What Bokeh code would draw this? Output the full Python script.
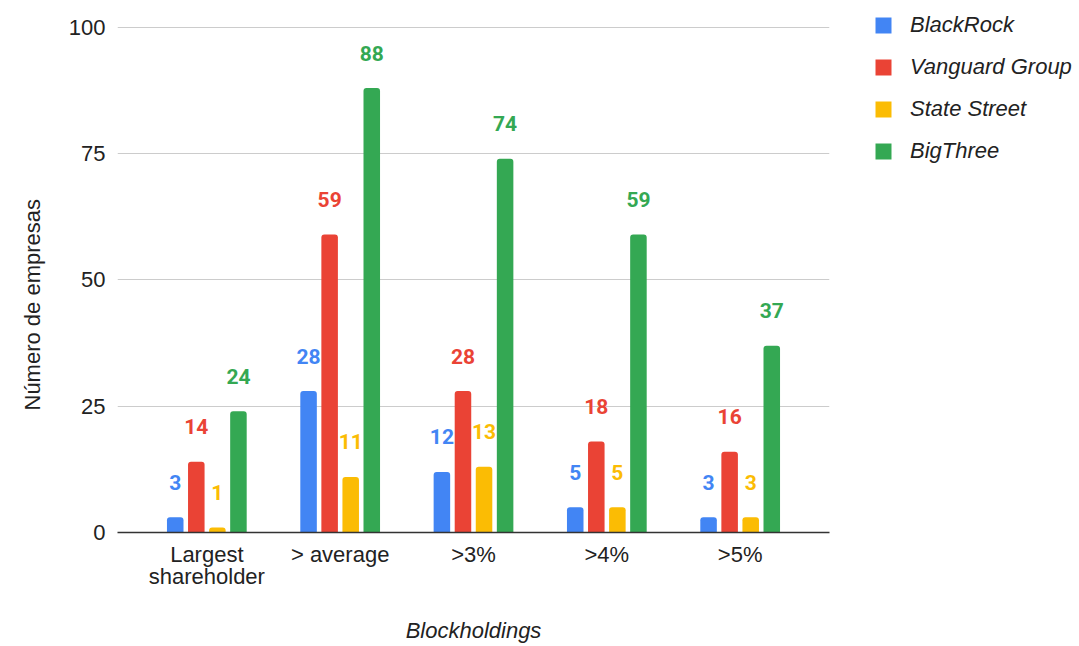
from bokeh.plotting import figure
from bokeh.layouts import row
from bokeh.models import (ColumnDataSource, FactorRange, Range1d, FixedTicker, LabelSet,
                          Legend, LegendItem, Title)
from bokeh.models.glyphs import VBar
from bokeh.transform import dodge
from bokeh.core.properties import value
from bokeh.embed import file_html
from bokeh.resources import INLINE

categories = ["Largest\nshareholder", "> average", ">3%", ">4%", ">5%"]
series = ["BlackRock", "Vanguard Group", "State Street", "BigThree"]
blackrock = [3, 28, 12, 5, 3]
vanguard = [14, 59, 28, 18, 16]
state_street = [1, 11, 13, 5, 3]
bigthree = [24, 88, 74, 59, 37]
colors = ["#4285F4", "#EA4335", "#FBBC04", "#34A853"]
y_ticks = [0, 25, 50, 75, 100]

values = [blackrock, vanguard, state_street, bigthree]
offsets = [-0.237, -0.079, 0.079, 0.237]

FONT = "Liberation Sans"
TXT = "#222222"

p = figure(x_range=FactorRange(factors=categories, range_padding=0.068),
           y_range=Range1d(0, 103.75),
           width=839, height=646, output_backend="svg", toolbar_location=None,
           min_border_left=117, min_border_right=10, min_border_top=8, min_border_bottom=112)
p.outline_line_color = None

p.xgrid.grid_line_color = None
p.ygrid.grid_line_color = "#cccccc"
p.ygrid.grid_line_width = 1
p.yaxis.ticker = FixedTicker(ticks=y_ticks)
p.yaxis.axis_line_color = None
p.yaxis.major_tick_line_color = None
p.yaxis.minor_tick_line_color = None
p.yaxis.major_label_standoff = 6
p.yaxis.major_label_text_font = FONT
p.yaxis.major_label_text_font_size = "22px"
p.yaxis.major_label_text_color = TXT

p.xaxis.axis_line_color = "#333333"
p.xaxis.axis_line_width = 1.5
p.xaxis.major_tick_line_color = None
p.xaxis.minor_tick_line_color = None
p.xaxis.major_label_standoff = 3
p.xaxis.major_label_text_font = FONT
p.xaxis.major_label_text_font_size = "22px"
p.xaxis.major_label_text_line_height = 0.9
p.xaxis.major_label_text_color = TXT
p.xaxis.axis_label = "Blockholdings"
p.xaxis.axis_label_text_font = FONT
p.xaxis.axis_label_text_font_size = "22px"
p.xaxis.axis_label_text_font_style = "italic"
p.xaxis.axis_label_text_color = TXT
p.xaxis.axis_label_standoff = 26

p.add_layout(Title(text="Número de empresas", align="left", vertical_align="top",
                   offset=122, standoff=38,
                   text_font=FONT, text_font_size="22px", text_font_style="normal",
                   text_color=TXT), "left")

has_radius = "border_radius" in VBar.properties()

for name, vals, col, off in zip(series, values, colors, offsets):
    src = ColumnDataSource(dict(cat=categories, val=vals, txt=[str(v) for v in vals]))
    kw = {}
    if has_radius:
        kw["border_radius"] = (3, 3, 0, 0)
    p.vbar(x=dodge("cat", off, range=p.x_range), top="val", width=0.124, source=src,
           fill_color=col, line_color=None, **kw)
    labels = LabelSet(x=dodge("cat", off, range=p.x_range), y="val", text="txt", source=src,
                      y_offset=35, text_align="center", text_baseline="middle",
                      text_font=value("Roboto"), text_font_style="bold", text_font_size="21px",
                      text_color=col)
    p.add_layout(labels)

# legend panel (zero-height bars only provide the legend swatches)
lg = figure(x_range=Range1d(0, 1), y_range=Range1d(0, 1), width=240, height=646,
            output_backend="svg", toolbar_location=None, title_location=None,
            x_axis_location=None, y_axis_location=None,
            min_border=0, min_border_left=0, min_border_right=0, min_border_top=0, min_border_bottom=0)
lg.grid.grid_line_color = None
lg.outline_line_color = None
items = []
for name, col in zip(series, colors):
    kw = {}
    if has_radius:
        kw["border_radius"] = 2
    r = lg.vbar(x=[0.5], bottom=[0], top=[0], width=0.0, fill_color=col, line_color=None, **kw)
    items.append(LegendItem(label=name, renderers=[r]))
legend = Legend(items=items, location=(34, 368), margin=0, padding=0,
                border_line_color=None, background_fill_alpha=0,
                glyph_width=20, glyph_height=20, label_height=26, label_standoff=17, spacing=16,
                label_text_font=FONT, label_text_font_size="22px", label_text_font_style="italic",
                label_text_color=TXT)
lg.add_layout(legend)

layout = row(p, lg)
open("out.html", "w").write(file_html(layout, INLINE))
